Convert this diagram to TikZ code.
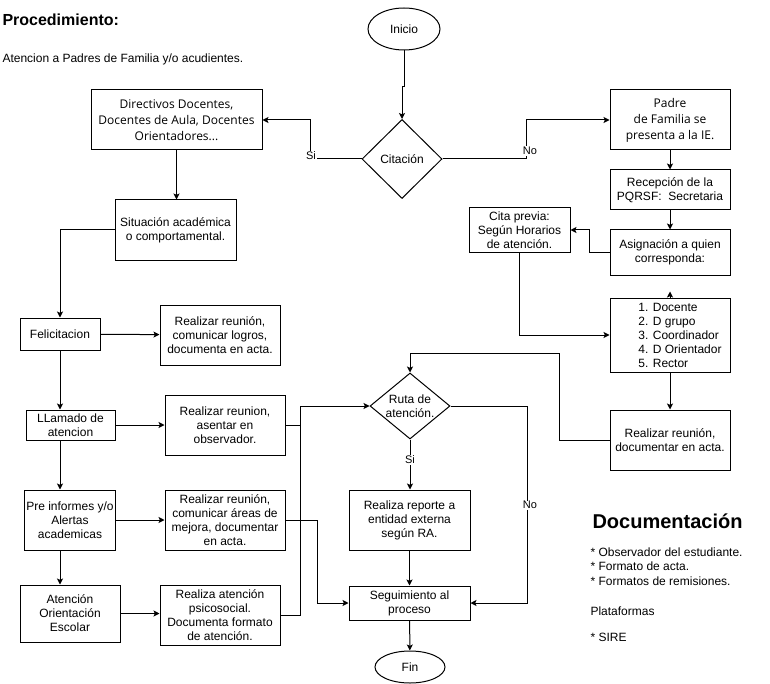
\documentclass[tikz,border=0pt]{standalone}
\usepackage{fontspec}
\setmainfont{Liberation Sans}
\newfontfamily\opensans{Open Sans}
\usetikzlibrary{arrows.meta,shapes.geometric}

\begin{document}
\begin{tikzpicture}[
    x=0.75pt, y=-0.75pt,
    every text node part/.style={align=center},
    font=\fontsize{9}{10.5}\selectfont,
    line width=0.75pt,
    proceso/.style={
      % The shape:
      rectangle,
      % The border:
      draw=black, line width=0.75pt,
      inner sep=1pt,
      % The usual size (120 x 60 px)
      minimum width=90pt, minimum height=45pt,
    },
    decision/.style={
      % a diamond, the text goes in a label
      diamond, draw=black, inner sep=0pt,
      minimum width=60pt,
    },
    terminal/.style={ellipse, draw=black},
    conector/.style={-{Stealth[length=4.5pt, width=4.5pt, inset=1pt]}},
    etiqueta/.style={fill=white, inner sep=0.5pt, font=\fontsize{8.25}{10}\selectfont},
    izquierda/.style={every text node part/.style={align=left}},
  ]

  \useasboundingbox (0,0) rectangle (770,684);

  % Heading
  \node[anchor=west, inner sep=0pt, font=\fontsize{12}{14}\selectfont\bfseries] (titulo) at (2,20) {Procedimiento:};
  \node[anchor=west, inner sep=0pt] (subtitulo) at (2,59) {Atencion a Padres de Familia y/o acudientes.};

  % Start and first decision
  \node[terminal, minimum width=54pt, minimum height=31.5pt] (inicio) at (404,29) {Inicio};
  \node[decision, minimum height=59.25pt, label={center:Citación}] (citacion) at (402,159) {};

  % Left column
  \node[proceso, minimum width=128.25pt, font=\opensans\fontsize{9}{12}\selectfont] (directivos) at (176.5,120) {Directivos Docentes,\\ Docentes de Aula, Docentes\\ Orientadores...};
  \node[proceso, minimum width=90.75pt] (situacion) at (175.5,230) {Situación académica\\ o comportamental.};
  \node[proceso, minimum width=60pt, minimum height=24pt] (felicitacion) at (60,334) {Felicitacion};
  \node[proceso] (logros) at (220,335) {Realizar reunión,\\ comunicar logros,\\ documenta en acta.};
  \node[proceso, minimum width=66.75pt, minimum height=22.5pt] (llamado) at (70.5,425) {LLamado de\\ atencion};
  \node[proceso] (observador) at (225,425) {Realizar reunion,\\ asentar en\\ observador.};
  \node[proceso, minimum width=67.5pt] (preinformes) at (70,520) {Pre informes y/o\\ Alertas\\ academicas};
  \node[proceso] (mejora) at (225,520) {Realizar reunión,\\ comunicar áreas de\\ mejora, documentar\\ en acta.};
  \node[proceso, minimum width=75pt, minimum height=42.75pt] (orientacion) at (70,613.5) {Atención\\ Orientación\\ Escolar};
  \node[proceso] (psicosocial) at (220,615) {Realiza atención\\ psicosocial.\\ Documenta formato\\ de atención.};

  % Middle column
  \node[decision, minimum height=49.5pt, label={center:Ruta de\\ atención.}] (ruta) at (410,406) {};
  \node[proceso, minimum width=90.75pt] (reporte) at (409.5,520) {Realiza reporte a\\ entidad externa\\ según RA.};
  \node[proceso, minimum width=90.75pt, minimum height=25.5pt] (seguimiento) at (409.5,603) {Seguimiento al\\ proceso};
  \node[terminal, minimum width=52.5pt, minimum height=24pt] (fin) at (410,667) {Fin};

  % Right column
  \node[proceso, font=\opensans\fontsize{9}{12}\selectfont] (padre) at (670,120) {Padre\\ de Familia se\\ presenta a la IE.};
  \node[proceso, minimum height=30pt] (recepcion) at (670,190) {Recepción de la\\ PQRSF:\ \ Secretaria};
  \node[proceso, minimum height=33.75pt] (asignacion) at (670,252.5) {Asignación a quien\\ corresponda:};
  \node[proceso, minimum width=75.75pt, minimum height=33pt] (cita) at (519.5,230) {Cita previa:\\ Según Horarios\\ de atención.};
  \node[proceso, minimum height=55.5pt, label={[izquierda, xshift=7.5pt]center:1. Docente\\ 2. D grupo\\ 3. Coordinador\\ 4. D Orientador\\ 5. Rector}] (lista) at (670,335) {};
  \node[proceso] (acta) at (670,440) {Realizar reunión,\\ documentar en acta.};

  % Documentation
  \node[anchor=west, inner sep=0pt, font=\fontsize{15}{18}\selectfont\bfseries] (documentacion) at (592,521) {Documentación};
  \node[izquierda, anchor=north west, inner sep=0pt, font=\fontsize{9}{11}\selectfont] (documentos) at (590,547) {* Observador del estudiante.\\ * Formato de acta.\\ * Formatos de remisiones.\\[11.5pt] Plataformas\\[8.5pt] * SIRE};

  % Connectors
  \draw[conector] (inicio.south) -- ++(0,36) -| (citacion.north);
  \draw[conector] (citacion.west) -- ++(-51,0) |- (directivos.east);
  \node[etiqueta] (si1) at (311,156) {Si};
  \draw[conector] (citacion.east) -- ++(84,0) |- (padre.west);
  \node[etiqueta] (no1) at (530,151) {No};

  \draw[conector] (directivos.south) -- (directivos.south |- situacion.north);
  \draw[conector] (situacion.west) -| (felicitacion.north);
  \draw[conector] (felicitacion) -- (logros);
  \draw[conector] (felicitacion.south) -- (felicitacion.south |- llamado.north);
  \draw[conector] (llamado) -- (observador);
  \draw[conector] (llamado.south -| felicitacion.south) -- (preinformes.north -| felicitacion.south);
  \draw[conector] (preinformes) -- (mejora);
  \draw[conector] (preinformes.south -| felicitacion.south) -- (orientacion.north -| felicitacion.south);
  \draw[conector] (orientacion.east) -- (orientacion.east -| psicosocial.west);

  \draw[conector] (psicosocial.east) -- ++(20,0) |- (ruta.west);
  \draw (observador.east) -- ++(15,0);
  \draw[conector] (mejora.east) -- ++(32,0) |- (seguimiento.west);

  \draw[conector] (ruta.south) -- (ruta.south |- reporte.north);
  \node[etiqueta] (si2) at (410,460) {Si};
  \draw[conector] (reporte) -- (seguimiento);
  \draw[conector] (seguimiento) -- (fin);
  \draw[conector] (ruta.east) -- ++(77,0) |- (seguimiento.east);
  \node[etiqueta] (no2) at (530,505) {No};
  \draw[conector] (acta.west) -- ++(-50,0) -- ++(0,-87) -| (ruta.north);

  \draw[conector] (padre) -- (recepcion);
  \draw[conector] (recepcion) -- (asignacion);
  \draw[conector] (asignacion.west) -- ++(-20,0) |- (cita.east);
  \draw[conector] (cita.south) |- (lista.west);
  \draw[conector] (lista.north) -- ++(0,-6);
  \draw[conector] (lista) -- (acta);
\end{tikzpicture}
\end{document}
